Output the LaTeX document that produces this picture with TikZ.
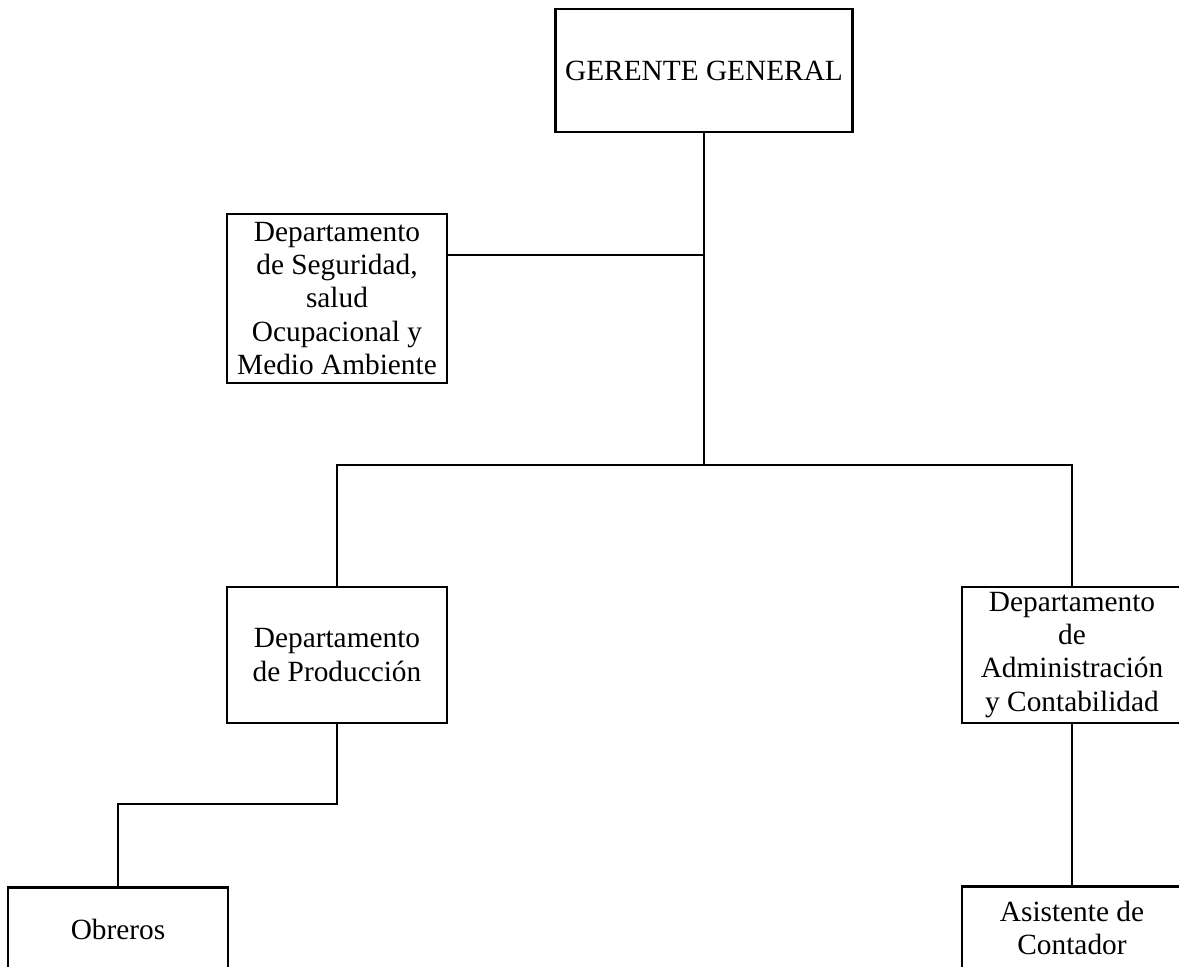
\documentclass[tikz,border=0pt]{standalone}
\usepackage{fontspec}
\setmainfont{Liberation Serif}
\begin{document}
\begin{tikzpicture}[x=0.75pt,y=-0.75pt,
  box/.style={draw=black,line width=2pt,rectangle,align=center,inner sep=0pt,
    font=\fontsize{22}{24.8}\selectfont,fill=white},
  link/.style={draw=black,line width=2pt}]
\useasboundingbox (0,0) rectangle (1179,967);
\clip (0,0) rectangle (1179,967);
\fill[white] (0,0) rectangle (1179,967);
% boxes
\node[box,minimum width=297*0.75pt,minimum height=123*0.75pt] (gg) at (704,70.5) {GERENTE GENERAL};
\node[box,minimum width=220*0.75pt,minimum height=169*0.75pt] (seg) at (337,298.5)
  {Departamento\\de Seguridad,\\salud\\Ocupacional y\\Medio Ambiente};
\node[box,minimum width=220*0.75pt,minimum height=136*0.75pt] (prod) at (337,655)
  {Departamento\\de Producción};
\node[box,minimum width=220*0.75pt,minimum height=136*0.75pt] (adm) at (1072,655)
  {Departamento\\de\\Administración\\y Contabilidad};
\node[box,minimum width=220*0.75pt,minimum height=84*0.75pt,anchor=north] (obr) at (118,886) {Obreros};
\node[box,minimum width=220*0.75pt,minimum height=84*0.75pt,anchor=north] (asi) at (1072,885)
  {Asistente de\\Contador};
% junctions
\coordinate (sj) at (704,255);
\coordinate (bus) at (704,465);
\coordinate (elb) at (118,804);
% connectors
\draw[link] (gg.south) -- (bus);
\draw[link] (seg.east |- sj) -- (sj);
\draw[link] (prod.north) |- (bus) -| (adm.north);
\draw[link] (prod.south) |- (elb) -- (obr.north);
\draw[link] (adm.south) -- (asi.north);
\end{tikzpicture}
\end{document}
